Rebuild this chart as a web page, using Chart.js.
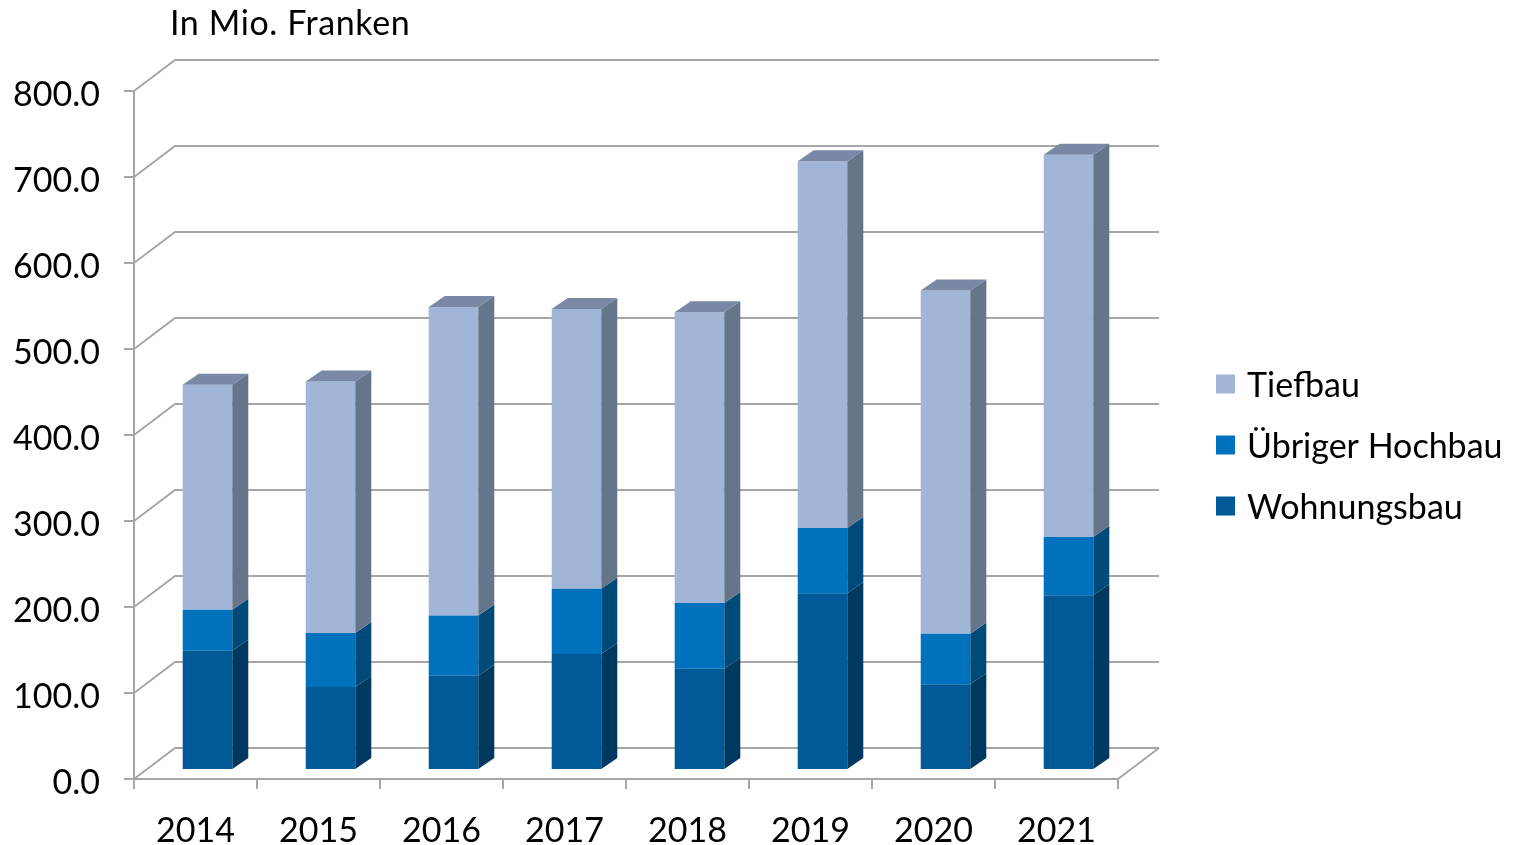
<!DOCTYPE html>
<html>
<head>
<meta charset="utf-8">
<script src="https://cdn.jsdelivr.net/npm/chart.js@4/dist/chart.umd.min.js"></script>
<style>
  html, body { margin: 0; padding: 0; background: #fff; }
  #wrap { width: 1515px; height: 845px; }
</style>
</head>
<body>
<div id="wrap"><canvas id="myChart" width="1515" height="845"></canvas></div>
<script>
const years = ['2014', '2015', '2016', '2017', '2018', '2019', '2020', '2021'];
const wohnungsbau = [137.6, 95.3, 108.5, 133.7, 116.6, 204.3, 98.5, 201.9];
const uebrigerHochbau = [47.6, 62.8, 70.1, 76.0, 76.4, 76.0, 58.8, 67.9];
const tiefbau = [261.7, 292.6, 358.6, 325.2, 338.0, 426.5, 399.2, 444.5];

const frontColors = ['#005A97', '#0071BC', '#A1B5D6'];
const sideColors = ['#00395F', '#004A7A', '#65758A'];
const topColor = '#7988A5';

// fake 3d: bar depth and wall offsets relative to the bar plane
const DX = 16, DY = -11;
const FRONT = { dx: -12, dy: 10 };
const BACK = { dx: 29, dy: -21 };
const FONT = 'Lato';

const walls3d = {
    id: 'walls3d',
    beforeDatasetsDraw(chart) {
        const { ctx, chartArea: a, scales: { x, y } } = chart;
        const fl = a.left + FRONT.dx, fr = a.right + FRONT.dx;
        const bl = a.left + BACK.dx, br = a.right + BACK.dx;
        const p0 = y.getPixelForValue(0);
        const pTop = y.getPixelForValue(y.max);
        ctx.save();
        ctx.strokeStyle = '#A6A6A6';
        ctx.lineWidth = 2;
        y.ticks.forEach(t => {
            const py = y.getPixelForValue(t.value);
            ctx.beginPath();
            ctx.moveTo(fl, py + FRONT.dy);
            ctx.lineTo(bl, py + BACK.dy);
            ctx.lineTo(br, py + BACK.dy);
            ctx.stroke();
            ctx.beginPath();
            ctx.moveTo(fl - 10, py + FRONT.dy);
            ctx.lineTo(fl, py + FRONT.dy);
            ctx.stroke();
        });
        // floor front edge + right side
        ctx.beginPath();
        ctx.moveTo(fl, p0 + FRONT.dy);
        ctx.lineTo(fr, p0 + FRONT.dy);
        ctx.lineTo(br, p0 + BACK.dy);
        ctx.stroke();
        // front value axis
        ctx.beginPath();
        ctx.moveTo(fl, pTop + FRONT.dy);
        ctx.lineTo(fl, p0 + FRONT.dy);
        ctx.stroke();
        // category tick marks
        const step = (a.right - a.left) / years.length;
        for (let i = 0; i <= years.length; i++) {
            const px = a.left + i * step + FRONT.dx;
            ctx.beginPath();
            ctx.moveTo(px, p0 + FRONT.dy);
            ctx.lineTo(px, p0 + FRONT.dy + 10);
            ctx.stroke();
        }
        ctx.restore();
    },
    afterDatasetsDraw(chart) {
        const ctx = chart.ctx;
        const last = chart.data.datasets.length - 1;
        ctx.save();
        chart.data.datasets.forEach((ds, di) => {
            chart.getDatasetMeta(di).data.forEach(bar => {
                const { x, y, base, width } = bar.getProps(['x', 'y', 'base', 'width'], true);
                const l = x - width / 2, r = x + width / 2;
                ctx.fillStyle = sideColors[di];
                ctx.beginPath();
                ctx.moveTo(r, y);
                ctx.lineTo(r + DX, y + DY);
                ctx.lineTo(r + DX, base + DY);
                ctx.lineTo(r, base);
                ctx.closePath();
                ctx.fill();
                if (di === last) {
                    ctx.fillStyle = topColor;
                    ctx.beginPath();
                    ctx.moveTo(l, y);
                    ctx.lineTo(l + DX, y + DY);
                    ctx.lineTo(r + DX, y + DY);
                    ctx.lineTo(r, y);
                    ctx.closePath();
                    ctx.fill();
                }
            });
        });
        ctx.restore();
    },
    afterDraw(chart) {
        const ctx = chart.ctx;
        ctx.save();
        ctx.fillStyle = '#000';
        ctx.textBaseline = 'middle';
        ctx.font = '34px ' + FONT;
        ctx.letterSpacing = '0.6px';
        ctx.fillText('In Mio. Franken', 170, 24);
        ctx.letterSpacing = '0px';

        ctx.font = '34px ' + FONT;
        const sets = chart.data.datasets.slice().reverse();
        sets.forEach((ds, i) => {
            const cy = 384 + i * 61;
            ctx.fillStyle = ds.backgroundColor;
            ctx.fillRect(1216, cy - 9.5, 19, 19);
            ctx.fillStyle = '#000';
            ctx.fillText(ds.label, 1247, cy + 2);
        });
        ctx.restore();
    }
};

function ShowGraph() {
    const ctx = document.getElementById('myChart');
    new Chart(ctx, {
        type: 'bar',
        data: {
            labels: years,
            datasets: [
                { label: 'Wohnungsbau', data: wohnungsbau, backgroundColor: frontColors[0] },
                { label: 'Übriger Hochbau', data: uebrigerHochbau, backgroundColor: frontColors[1] },
                { label: 'Tiefbau', data: tiefbau, backgroundColor: frontColors[2] }
            ]
        },
        options: {
            responsive: false,
            animation: false,
            devicePixelRatio: 1,
            layout: { padding: { top: 81, right: 385, bottom: 0, left: 0 } },
            datasets: { bar: { barPercentage: 0.403, categoryPercentage: 1, borderWidth: 0 } },
            scales: {
                x: {
                    stacked: true,
                    grid: { display: false, drawTicks: false },
                    border: { display: false },
                    ticks: { color: '#000', font: { family: FONT, size: 34 }, padding: 42, labelOffset: FRONT.dx },
                    afterFit: s => { s.height = 76; }
                },
                y: {
                    stacked: true,
                    min: 0,
                    max: 800,
                    grid: { display: false, drawTicks: false },
                    border: { display: false },
                    ticks: {
                        stepSize: 100,
                        color: '#000',
                        font: { family: FONT, size: 34 },
                        padding: 46,
                        labelOffset: FRONT.dy + 4,
                        callback: v => v.toFixed(1)
                    },
                    afterFit: s => { s.width = 146; }
                }
            },
            plugins: {
                legend: { display: false },
                tooltip: { enabled: false }
            }
        },
        plugins: [walls3d]
    });
}

window.addEventListener('load', ShowGraph);
</script>
</body>
</html>
